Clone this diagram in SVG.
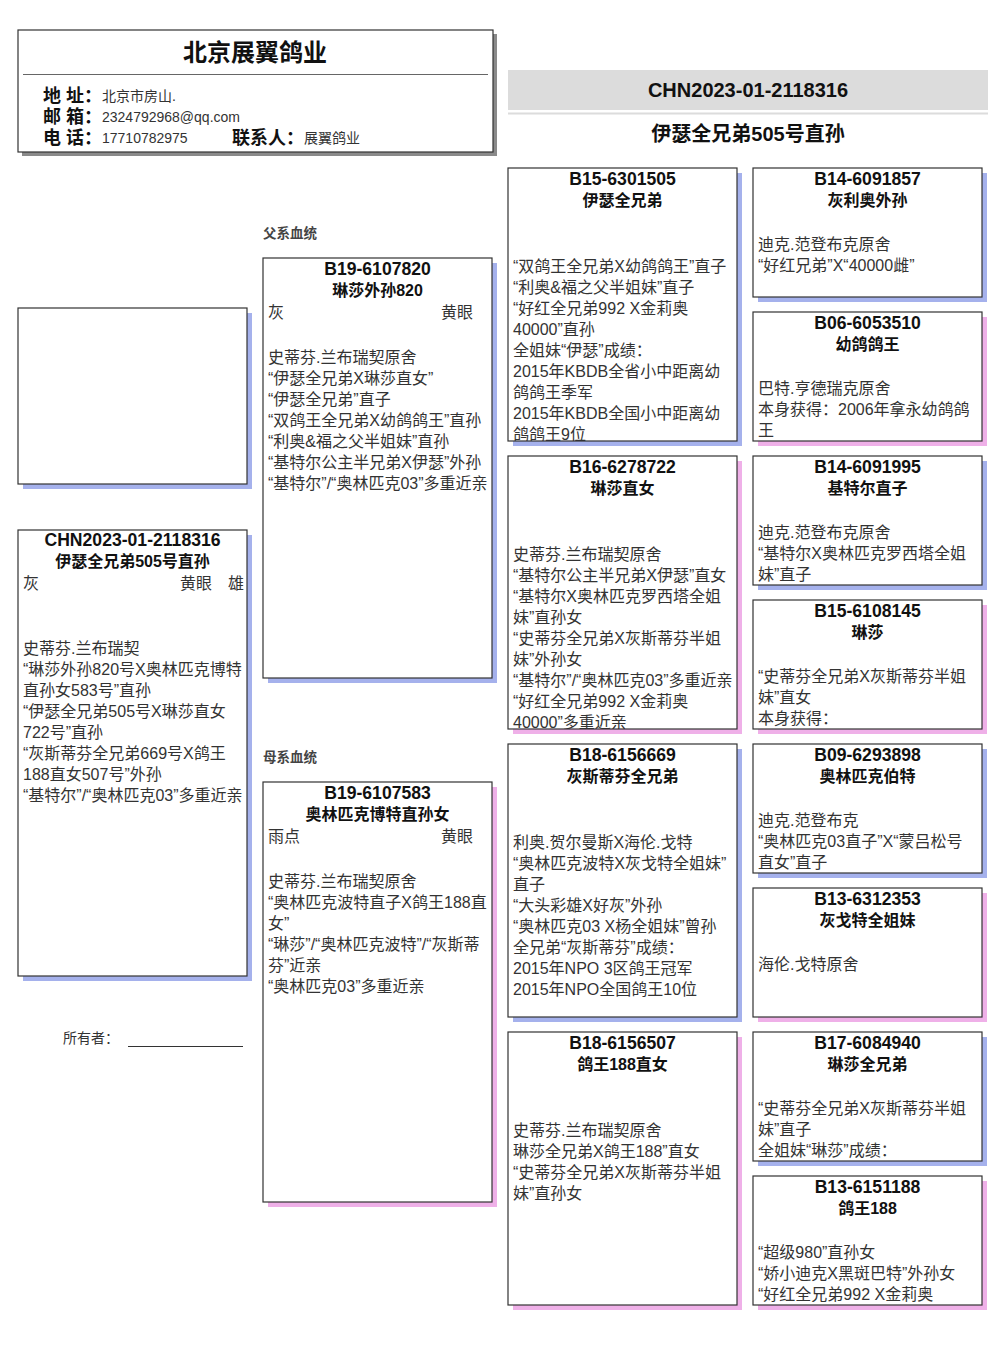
<svg xmlns="http://www.w3.org/2000/svg" width="1006" height="1366" viewBox="0 0 1006 1366">
<style>
text{font-family:"Liberation Sans","Noto Sans CJK SC",sans-serif}
.box{fill:#fff;stroke:#333;stroke-width:1.2}
.sb{fill:#a5b1ec}
.sp{fill:#efb0e8}
.id{font-size:17.6px;font-weight:bold;text-anchor:middle;fill:#111}
.nm{font-size:16px;font-weight:bold;text-anchor:middle;fill:#111}
.tx{font-size:16px;fill:#333}
.lb{font-size:18px;font-weight:bold;fill:#111}
.vl{font-size:14px;fill:#333}
.sec{font-size:13.5px;font-weight:bold;fill:#444}
</style>
<defs>
<clipPath id="c1"><rect x="508" y="168" width="229" height="273"/></clipPath>
<clipPath id="c2"><rect x="508" y="456" width="229" height="273"/></clipPath>
<clipPath id="c8"><rect x="753" y="1176" width="229" height="129"/></clipPath>
</defs>
<rect width="1006" height="1366" fill="#fff"/>

<g id="header">
<rect x="22" y="34" width="475" height="122" fill="#8a8a8a"/>
<rect x="18" y="30" width="475" height="122" class="box"/>
<text x="255" y="61" font-size="24" font-weight="bold" text-anchor="middle" fill="#111">北京展翼鸽业</text>
<line x1="23" y1="74.5" x2="488" y2="74.5" stroke="#666" stroke-width="1.2"/>
<text x="43" y="102" class="lb">地 址：</text><text x="102" y="101" class="vl">北京市房山.</text>
<text x="43" y="123" class="lb">邮 箱：</text><text x="102" y="122" class="vl">2324792968@qq.com</text>
<text x="43" y="144" class="lb">电 话：</text><text x="102" y="143" class="vl">17710782975</text>
<text x="232" y="144" class="lb">联系人：</text><text x="304" y="143" class="vl">展翼鸽业</text>
</g>

<g id="title">
<rect x="508" y="70" width="480" height="40" fill="#dcdcdc"/>
<line x1="508" y1="113.5" x2="988" y2="113.5" stroke="#dcdcdc" stroke-width="2"/>
<text x="748" y="97" font-size="20" font-weight="bold" text-anchor="middle" fill="#111">CHN2023-01-2118316</text>
<text x="748" y="141" font-size="20" font-weight="bold" text-anchor="middle" fill="#111">伊瑟全兄弟505号直孙</text>
</g>

<g id="photo">
<rect x="23" y="313" width="229" height="176" class="sb"/>
<rect x="18" y="308" width="229" height="176" class="box"/>
</g>

<g id="subject">
<rect x="23" y="535" width="229" height="446" class="sb"/>
<rect x="18" y="530" width="229" height="446" class="box"/>
<text x="132.5" y="546" class="id">CHN2023-01-2118316</text>
<text x="132.5" y="567" class="nm">伊瑟全兄弟505号直孙</text>
<text x="23" y="589" class="tx">灰</text><text x="180" y="589" class="tx">黄眼</text><text x="228" y="589" class="tx">雄</text>
<text class="tx"><tspan x="23" y="654">史蒂芬.兰布瑞契</tspan><tspan x="23" y="675">“琳莎外孙820号X奥林匹克博特</tspan><tspan x="23" y="696">直孙女583号”直孙</tspan><tspan x="23" y="717">“伊瑟全兄弟505号X琳莎直女</tspan><tspan x="23" y="738">722号”直孙</tspan><tspan x="23" y="759">“灰斯蒂芬全兄弟669号X鸽王</tspan><tspan x="23" y="780">188直女507号”外孙</tspan><tspan x="23" y="801">“基特尔”/“奥林匹克03”多重近亲</tspan></text>
</g>

<g id="owner">
<text x="63" y="1043" font-size="14" fill="#333">所有者：</text>
<line x1="128" y1="1046.5" x2="243" y2="1046.5" stroke="#333" stroke-width="1"/>
</g>

<g id="sire">
<text x="263" y="238" class="sec">父系血统</text>
<rect x="268" y="263" width="229" height="420" class="sb"/>
<rect x="263" y="258" width="229" height="420" class="box"/>
<text x="377.5" y="275" class="id">B19-6107820</text>
<text x="377.5" y="296" class="nm">琳莎外孙820</text>
<text x="268" y="318" class="tx">灰</text><text x="441" y="318" class="tx">黄眼</text>
<text class="tx"><tspan x="268" y="363">史蒂芬.兰布瑞契原舍</tspan><tspan x="268" y="384">“伊瑟全兄弟X琳莎直女”</tspan><tspan x="268" y="405">“伊瑟全兄弟”直子</tspan><tspan x="268" y="426">“双鸽王全兄弟X幼鸽鸽王”直孙</tspan><tspan x="268" y="447">“利奥&amp;福之父半姐妹”直孙</tspan><tspan x="268" y="468">“基特尔公主半兄弟X伊瑟”外孙</tspan><tspan x="268" y="489">“基特尔”/“奥林匹克03”多重近亲</tspan></text>
</g>

<g id="dam">
<text x="263" y="762" class="sec">母系血统</text>
<rect x="268" y="787" width="229" height="420" class="sp"/>
<rect x="263" y="782" width="229" height="420" class="box"/>
<text x="377.5" y="799" class="id">B19-6107583</text>
<text x="377.5" y="820" class="nm">奥林匹克博特直孙女</text>
<text x="268" y="842" class="tx">雨点</text><text x="441" y="842" class="tx">黄眼</text>
<text class="tx"><tspan x="268" y="887">史蒂芬.兰布瑞契原舍</tspan><tspan x="268" y="908">“奥林匹克波特直子X鸽王188直</tspan><tspan x="268" y="929">女”</tspan><tspan x="268" y="950">“琳莎”/“奥林匹克波特”/“灰斯蒂</tspan><tspan x="268" y="971">芬”近亲</tspan><tspan x="268" y="992">“奥林匹克03”多重近亲</tspan></text>
</g>

<g id="ss">
<rect x="513" y="173" width="229" height="273" class="sb"/>
<rect x="508" y="168" width="229" height="273" class="box"/>
<text x="622.5" y="185" class="id">B15-6301505</text>
<text x="622.5" y="206" class="nm">伊瑟全兄弟</text>
<text class="tx" clip-path="url(#c1)"><tspan x="513" y="272">“双鸽王全兄弟X幼鸽鸽王”直子</tspan><tspan x="513" y="293">“利奥&amp;福之父半姐妹”直子</tspan><tspan x="513" y="314">“好红全兄弟992 X金莉奥</tspan><tspan x="513" y="335">40000”直孙</tspan><tspan x="513" y="356">全姐妹“伊瑟”成绩：</tspan><tspan x="513" y="377">2015年KBDB全省小中距离幼</tspan><tspan x="513" y="398">鸽鸽王季军</tspan><tspan x="513" y="419">2015年KBDB全国小中距离幼</tspan><tspan x="513" y="440">鸽鸽王9位</tspan></text>
</g>

<g id="sd">
<rect x="513" y="461" width="229" height="273" class="sp"/>
<rect x="508" y="456" width="229" height="273" class="box"/>
<text x="622.5" y="473" class="id">B16-6278722</text>
<text x="622.5" y="494" class="nm">琳莎直女</text>
<text class="tx" clip-path="url(#c2)"><tspan x="513" y="560">史蒂芬.兰布瑞契原舍</tspan><tspan x="513" y="581">“基特尔公主半兄弟X伊瑟”直女</tspan><tspan x="513" y="602">“基特尔X奥林匹克罗西塔全姐</tspan><tspan x="513" y="623">妹”直孙女</tspan><tspan x="513" y="644">“史蒂芬全兄弟X灰斯蒂芬半姐</tspan><tspan x="513" y="665">妹”外孙女</tspan><tspan x="513" y="686">“基特尔”/“奥林匹克03”多重近亲</tspan><tspan x="513" y="707">“好红全兄弟992 X金莉奥</tspan><tspan x="513" y="728">40000”多重近亲</tspan></text>
</g>

<g id="ds">
<rect x="513" y="749" width="229" height="273" class="sb"/>
<rect x="508" y="744" width="229" height="273" class="box"/>
<text x="622.5" y="761" class="id">B18-6156669</text>
<text x="622.5" y="782" class="nm">灰斯蒂芬全兄弟</text>
<text class="tx"><tspan x="513" y="848">利奥.贺尔曼斯X海伦.戈特</tspan><tspan x="513" y="869">“奥林匹克波特X灰戈特全姐妹”</tspan><tspan x="513" y="890">直子</tspan><tspan x="513" y="911">“大头彩雄X好灰”外孙</tspan><tspan x="513" y="932">“奥林匹克03 X杨全姐妹”曾孙</tspan><tspan x="513" y="953">全兄弟“灰斯蒂芬”成绩：</tspan><tspan x="513" y="974">2015年NPO 3区鸽王冠军</tspan><tspan x="513" y="995">2015年NPO全国鸽王10位</tspan></text>
</g>

<g id="dd">
<rect x="513" y="1037" width="229" height="273" class="sp"/>
<rect x="508" y="1032" width="229" height="273" class="box"/>
<text x="622.5" y="1049" class="id">B18-6156507</text>
<text x="622.5" y="1070" class="nm">鸽王188直女</text>
<text class="tx"><tspan x="513" y="1136">史蒂芬.兰布瑞契原舍</tspan><tspan x="513" y="1157">琳莎全兄弟X鸽王188”直女</tspan><tspan x="513" y="1178">“史蒂芬全兄弟X灰斯蒂芬半姐</tspan><tspan x="513" y="1199">妹”直孙女</tspan></text>
</g>

<g id="sss">
<rect x="758" y="173" width="229" height="129" class="sb"/>
<rect x="753" y="168" width="229" height="129" class="box"/>
<text x="867.5" y="185" class="id">B14-6091857</text>
<text x="867.5" y="206" class="nm">灰利奥外孙</text>
<text class="tx"><tspan x="758" y="250">迪克.范登布克原舍</tspan><tspan x="758" y="271">“好红兄弟”X“40000雌”</tspan></text>
</g>

<g id="ssd">
<rect x="758" y="317" width="229" height="129" class="sp"/>
<rect x="753" y="312" width="229" height="129" class="box"/>
<text x="867.5" y="329" class="id">B06-6053510</text>
<text x="867.5" y="350" class="nm">幼鸽鸽王</text>
<text class="tx"><tspan x="758" y="394">巴特.亨德瑞克原舍</tspan><tspan x="758" y="415">本身获得：2006年拿永幼鸽鸽</tspan><tspan x="758" y="436">王</tspan></text>
</g>

<g id="sds">
<rect x="758" y="461" width="229" height="129" class="sb"/>
<rect x="753" y="456" width="229" height="129" class="box"/>
<text x="867.5" y="473" class="id">B14-6091995</text>
<text x="867.5" y="494" class="nm">基特尔直子</text>
<text class="tx"><tspan x="758" y="538">迪克.范登布克原舍</tspan><tspan x="758" y="559">“基特尔X奥林匹克罗西塔全姐</tspan><tspan x="758" y="580">妹”直子</tspan></text>
</g>

<g id="sdd">
<rect x="758" y="605" width="229" height="129" class="sp"/>
<rect x="753" y="600" width="229" height="129" class="box"/>
<text x="867.5" y="617" class="id">B15-6108145</text>
<text x="867.5" y="638" class="nm">琳莎</text>
<text class="tx"><tspan x="758" y="682">“史蒂芬全兄弟X灰斯蒂芬半姐</tspan><tspan x="758" y="703">妹”直女</tspan><tspan x="758" y="724">本身获得：</tspan></text>
</g>

<g id="dss">
<rect x="758" y="749" width="229" height="129" class="sb"/>
<rect x="753" y="744" width="229" height="129" class="box"/>
<text x="867.5" y="761" class="id">B09-6293898</text>
<text x="867.5" y="782" class="nm">奥林匹克伯特</text>
<text class="tx"><tspan x="758" y="826">迪克.范登布克</tspan><tspan x="758" y="847">“奥林匹克03直子”X“蒙吕松号</tspan><tspan x="758" y="868">直女”直子</tspan></text>
</g>

<g id="dsd">
<rect x="758" y="893" width="229" height="129" class="sp"/>
<rect x="753" y="888" width="229" height="129" class="box"/>
<text x="867.5" y="905" class="id">B13-6312353</text>
<text x="867.5" y="926" class="nm">灰戈特全姐妹</text>
<text x="758" y="970" class="tx">海伦.戈特原舍</text>
</g>

<g id="dds">
<rect x="758" y="1037" width="229" height="129" class="sb"/>
<rect x="753" y="1032" width="229" height="129" class="box"/>
<text x="867.5" y="1049" class="id">B17-6084940</text>
<text x="867.5" y="1070" class="nm">琳莎全兄弟</text>
<text class="tx"><tspan x="758" y="1114">“史蒂芬全兄弟X灰斯蒂芬半姐</tspan><tspan x="758" y="1135">妹”直子</tspan><tspan x="758" y="1156">全姐妹“琳莎”成绩：</tspan></text>
</g>

<g id="ddd">
<rect x="758" y="1181" width="229" height="129" class="sp"/>
<rect x="753" y="1176" width="229" height="129" class="box"/>
<text x="867.5" y="1193" class="id">B13-6151188</text>
<text x="867.5" y="1214" class="nm">鸽王188</text>
<text class="tx" clip-path="url(#c8)"><tspan x="758" y="1258">“超级980”直孙女</tspan><tspan x="758" y="1279">“娇小迪克X黑斑巴特”外孙女</tspan><tspan x="758" y="1300">“好红全兄弟992 X金莉奥</tspan></text>
</g>

<g id="connectors"/>
</svg>
